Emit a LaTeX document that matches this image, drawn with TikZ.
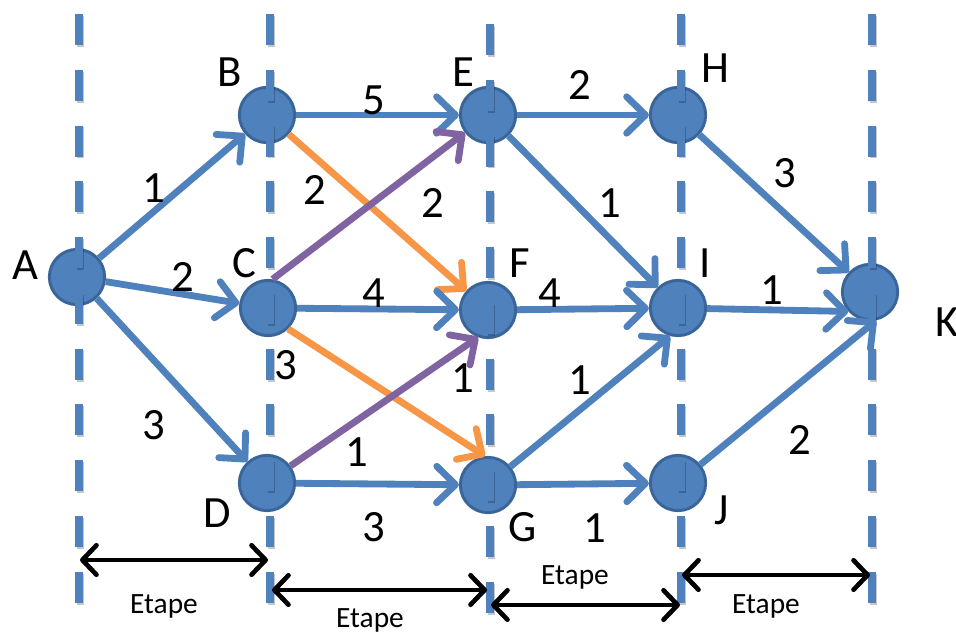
\documentclass[tikz,border=0pt]{standalone}
\usepackage{fontspec}
\setmainfont{Carlito}
\usetikzlibrary{arrows.meta}
\definecolor{ppblue}{HTML}{4F81BD}
\definecolor{ppborder}{HTML}{3A6599}
\definecolor{pporange}{HTML}{F79646}
\definecolor{pppurple}{HTML}{8064A2}
\begin{document}
\begin{tikzpicture}[x=0.85pt,y=-0.85pt,
  vert/.style={line width=6pt, ppblue, dash pattern=on 26.4pt off 21pt},
  vshadow/.style={line width=6pt, black, opacity=0.22, dash pattern=on 26.4pt off 21pt},
  vertex/.style={circle, fill=ppblue, draw=ppborder, line width=2.5pt, minimum size=47pt, inner sep=0pt},
  edge/.style={line width=5.8pt, ppblue, -{Straight Barb[length=16pt,width=31pt,round]}},
  lbl/.style={font=\fontsize{38}{42}\selectfont, inner sep=0pt},
  etp/.style={font=\fontsize{25}{28}\selectfont, inner sep=0pt},
  etape/.style={line width=4pt, black, {Straight Barb[length=12pt,width=25pt,round]}-{Straight Barb[length=12pt,width=25pt,round]}}
]
\useasboundingbox (0,0) rectangle (956,633);
% nodes
\node[vertex] (A) at (77,277) {};
\node[vertex] (B) at (267,115) {};
\node[vertex] (C) at (268,308) {};
\node[vertex] (D) at (267,483) {};
\node[vertex] (E) at (488,115) {};
\node[vertex] (F) at (488,310) {};
\node[vertex] (G) at (488,485) {};
\node[vertex] (H) at (678,115) {};
\node[vertex] (I) at (678,308) {};
\node[vertex] (J) at (678,483) {};
\node[vertex] (K) at (870,292) {};
% dashed stage lines
\foreach \x/\ys/\ye in {79/14/604, 270/14/604, 490/24/615, 681/14/604, 872/14/604}{
  \draw[vshadow, xshift=1.2pt, yshift=-1.6pt] (\x,\ys) -- (\x,\ye);
  \draw[vert] (\x,\ys) -- (\x,\ye);
}
% edges
\draw[edge] (A) -- (B);
\draw[edge] (A) -- (C);
\draw[edge] (A) -- (D);
\draw[edge] (B) -- (E);
\draw[edge,pporange] (B) -- (F);
\draw[edge,pppurple] (C.81) -- (E);
\draw[edge] (C) -- (F);
\draw[edge,pporange] (C.314) -- (G.96);
\draw[edge,pppurple] (D.36) -- (F.250);
\draw[edge] (D) -- (G);
\draw[edge] (E) -- (H);
\draw[edge] (E) -- (I);
\draw[edge] (F) -- (I);
\draw[edge] (G) -- (I.254);
\draw[edge] (G) -- (J);
\draw[edge] (H) -- (K);
\draw[edge] (I) -- (K.222);
\draw[edge] (J) -- (K.282);
% node letters
\node[lbl] (lA) at (25,265) {A};
\node[lbl] (lB) at (230,72) {B};
\node[lbl] (lC) at (244,263) {C};
\node[lbl] (lD) at (217,513) {D};
\node[lbl] (lE) at (463,72) {E};
\node[lbl] (lF) at (520,263) {F};
\node[lbl] (lG) at (523,527) {G};
\node[lbl] (lH) at (715,68) {H};
\node[lbl] (lI) at (705,263) {I};
\node[lbl] (lJ) at (722,510) {J};
\node[lbl] (lK) at (947,322) {K};
% weights
\node[lbl] (w1) at (154,188) {1};
\node[lbl] (w2) at (183,277) {2};
\node[lbl] (w3) at (154,425) {3};
\node[lbl] (w4) at (374,100) {5};
\node[lbl] (w5) at (315,190) {2};
\node[lbl] (w6) at (433,203) {2};
\node[lbl] (w7) at (374,293) {4};
\node[lbl] (w8) at (286,365) {3};
\node[lbl] (w9) at (463,378) {1};
\node[lbl] (w10) at (357,452) {1};
\node[lbl] (w11) at (374,527) {3};
\node[lbl] (w12) at (580,85) {2};
\node[lbl] (w13) at (610,203) {1};
\node[lbl] (w14) at (550,293) {4};
\node[lbl] (w15) at (785,173) {3};
\node[lbl] (w16) at (772,290) {1};
\node[lbl] (w17) at (580,380) {1};
\node[lbl] (w18) at (595,528) {1};
\node[lbl] (w19) at (800,440) {2};
% Etape arrows
\coordinate (e1l) at (80,560); \coordinate (e1r) at (268,560);
\coordinate (e2l) at (272,590); \coordinate (e2r) at (487,590);
\coordinate (e3l) at (491,605); \coordinate (e3r) at (680,605);
\coordinate (e4l) at (682,575); \coordinate (e4r) at (870,575);
\draw[etape] (e1l) -- (e1r);
\draw[etape] (e2l) -- (e2r);
\draw[etape] (e3l) -- (e3r);
\draw[etape] (e4l) -- (e4r);
\node[etp] (t1) at (164,606) {Etape};
\node[etp] (t2) at (370,620) {Etape};
\node[etp] (t3) at (575,577) {Etape};
\node[etp] (t4) at (766,606) {Etape};
\end{tikzpicture}
\end{document}
